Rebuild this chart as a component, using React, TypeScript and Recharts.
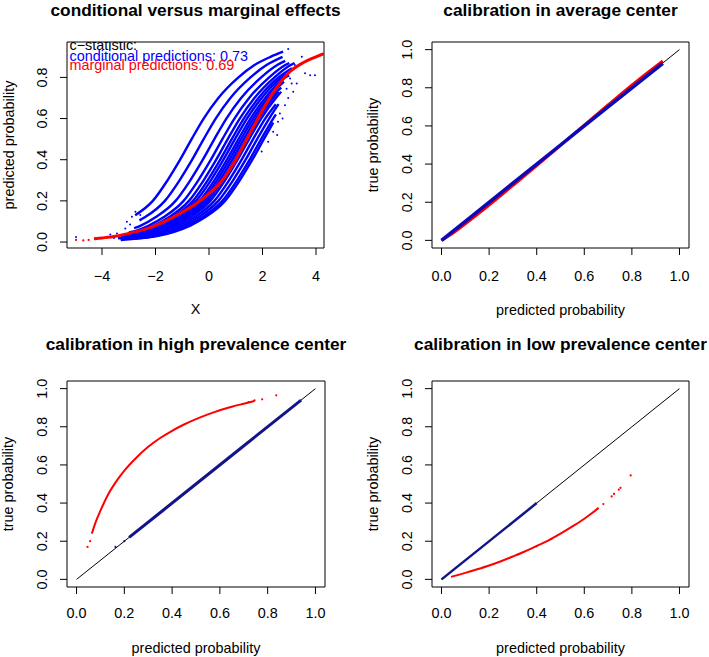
import React from 'react'
import { ComposedChart, Scatter, XAxis, YAxis, ReferenceArea } from 'recharts'

const FONT = '"Liberation Sans", Arial, Helvetica, sans-serif'
const BLUE = '#0000ff'
const RED = '#ff0000'
const NAVY = '#14148a'

// ---- panel 1: conditional versus marginal effects ----
const effectXTicks = [-4, -2, 0, 2, 4]
const effectYTicks = [0, 0.2, 0.4, 0.6, 0.8]
const probTicks = [0, 0.2, 0.4, 0.6, 0.8, 1]

// one curve per center (conditional predictions) as [x, y]
const conditionalCurves: [number, number][][] = [
  [[-2.76, 0.13], [-2.1, 0.2], [-1.55, 0.3], [-1.08, 0.4], [-0.65, 0.5], [-0.2, 0.6], [0.35, 0.7], [1.1, 0.8], [1.7, 0.86], [2.3, 0.9], [2.77, 0.925]],
  [[-2.6, 0.105], [-2.4, 0.12], [-1.65, 0.2], [-1.1, 0.3], [-0.63, 0.4], [-0.2, 0.5], [0.25, 0.6], [0.8, 0.7], [1.55, 0.8], [2.15, 0.86], [2.75, 0.9]],
  [[-2.8, 0.067], [-2.55, 0.08], [-2.0, 0.12], [-1.25, 0.2], [-0.7, 0.3], [-0.23, 0.4], [0.2, 0.5], [0.65, 0.6], [1.2, 0.7], [1.95, 0.8], [2.55, 0.86], [2.85, 0.88]],
  [[-3.0, 0.046], [-2.85, 0.05], [-2.25, 0.08], [-1.7, 0.12], [-0.95, 0.2], [-0.4, 0.3], [0.07, 0.4], [0.5, 0.5], [0.95, 0.6], [1.5, 0.7], [2.25, 0.8], [2.85, 0.86], [3.0, 0.87]],
  [[-3.2, 0.031], [-2.65, 0.05], [-2.05, 0.08], [-1.5, 0.12], [-0.75, 0.2], [-0.2, 0.3], [0.27, 0.4], [0.7, 0.5], [1.15, 0.6], [1.7, 0.7], [2.45, 0.8], [3.05, 0.86], [3.2, 0.87]],
  [[-3.1, 0.03], [-2.5, 0.05], [-1.9, 0.08], [-1.35, 0.12], [-0.6, 0.2], [-0.05, 0.3], [0.42, 0.4], [0.85, 0.5], [1.3, 0.6], [1.85, 0.7], [2.6, 0.8], [3.1, 0.845]],
  [[-3.3, 0.022], [-2.98, 0.03], [-2.38, 0.05], [-1.78, 0.08], [-1.23, 0.12], [-0.48, 0.2], [0.07, 0.3], [0.54, 0.4], [0.97, 0.5], [1.42, 0.6], [1.97, 0.7], [2.72, 0.8], [2.9, 0.815]],
  [[-3.0, 0.025], [-2.85, 0.03], [-2.25, 0.05], [-1.65, 0.08], [-1.1, 0.12], [-0.35, 0.2], [0.2, 0.3], [0.67, 0.4], [1.1, 0.5], [1.55, 0.6], [2.1, 0.7], [2.85, 0.8], [3.0, 0.81]],
  [[-3.4, 0.018], [-3.25, 0.02], [-2.75, 0.03], [-2.15, 0.05], [-1.55, 0.08], [-1.0, 0.12], [-0.25, 0.2], [0.3, 0.3], [0.77, 0.4], [1.2, 0.5], [1.65, 0.6], [2.2, 0.7], [2.8, 0.78]],
  [[-2.9, 0.023], [-2.65, 0.03], [-2.05, 0.05], [-1.45, 0.08], [-0.9, 0.12], [-0.15, 0.2], [0.4, 0.3], [0.87, 0.4], [1.3, 0.5], [1.75, 0.6], [2.3, 0.7], [2.7, 0.75]],
  [[-3.0, 0.02], [-2.55, 0.03], [-1.95, 0.05], [-1.35, 0.08], [-0.8, 0.12], [-0.05, 0.2], [0.5, 0.3], [0.97, 0.4], [1.4, 0.5], [1.85, 0.6], [2.4, 0.7], [2.6, 0.73]],
  [[-3.1, 0.018], [-2.95, 0.02], [-2.45, 0.03], [-1.85, 0.05], [-1.25, 0.08], [-0.7, 0.12], [0.05, 0.2], [0.6, 0.3], [1.07, 0.4], [1.5, 0.5], [1.95, 0.6], [2.5, 0.7], [2.7, 0.73]],
  [[-3.2, 0.016], [-2.8, 0.02], [-2.3, 0.03], [-1.7, 0.05], [-1.1, 0.08], [-0.55, 0.12], [0.2, 0.2], [0.75, 0.3], [1.22, 0.4], [1.65, 0.5], [2.1, 0.6], [2.5, 0.67]],
  [[-2.8, 0.018], [-2.65, 0.02], [-2.15, 0.03], [-1.55, 0.05], [-0.95, 0.08], [-0.4, 0.12], [0.35, 0.2], [0.9, 0.3], [1.37, 0.4], [1.8, 0.5], [2.25, 0.6], [2.6, 0.67]],
  [[-3.0, 0.015], [-2.5, 0.02], [-2.0, 0.03], [-1.4, 0.05], [-0.8, 0.08], [-0.25, 0.12], [0.5, 0.2], [1.05, 0.3], [1.52, 0.4], [1.95, 0.5], [2.4, 0.6], [2.5, 0.62]],
  [[-3.3, 0.01], [-2.4, 0.02], [-1.9, 0.03], [-1.3, 0.05], [-0.7, 0.08], [-0.15, 0.12], [0.6, 0.2], [1.15, 0.3], [1.62, 0.4], [2.05, 0.5], [2.4, 0.58]],
]

// loose observations at both ends of the conditional curves
const conditionalDots: [number, number][] = [
  [2.96, 0.938], [3.47, 0.9], [3.21, 0.86], [3.59, 0.82], [3.78, 0.81], [3.96, 0.81], [3.03, 0.795],
  [3.28, 0.77], [3.09, 0.77], [2.9, 0.745], [3.15, 0.73], [2.96, 0.7], [2.84, 0.665], [2.65, 0.625],
  [2.58, 0.585], [2.4, 0.536], [2.21, 0.487], [1.97, 0.44], [2.75, 0.6], [2.55, 0.52],
  [-3.07, 0.099], [-2.88, 0.123], [-2.75, 0.147], [-2.57, 0.131], [-3.13, 0.066], [-3.44, 0.042],
  [-3.81, 0.026], [-3.69, 0.037], [-3.31, 0.017], [-4.97, 0.024], [-3.55, 0.02], [-2.95, 0.085],
]

const marginalX = [-4.3, -4, -3.5, -3, -2.5, -2, -1.5, -1, -0.5, 0, 0.5, 1, 1.5, 2, 2.5, 3, 3.5, 4, 4.3]
const marginalY = [0.016, 0.02, 0.028, 0.042, 0.058, 0.08, 0.11, 0.145, 0.185, 0.235, 0.3, 0.4, 0.52, 0.64, 0.745, 0.825, 0.87, 0.9, 0.915]
const marginalDots: [number, number][] = [[-4.97, 0.01], [-4.7, 0.008], [-4.5, 0.01]]

// ---- calibration panels: [predicted, true] ----
const diagonal: [number, number][] = [[0, 0], [1, 1]]

const avgRed: [number, number][] = [[0, 0], [0.05, 0.04], [0.1, 0.087], [0.2, 0.185], [0.3, 0.288], [0.4, 0.392], [0.5, 0.498], [0.6, 0.604], [0.7, 0.71], [0.8, 0.814], [0.9, 0.912], [0.93, 0.94]]
const avgBlue: [number, number][] = [[0, 0], [0.1, 0.1], [0.3, 0.3], [0.5, 0.5], [0.7, 0.7], [0.93, 0.928]]

const highRed: [number, number][] = [[0.064, 0.24], [0.08, 0.3], [0.1, 0.36], [0.13, 0.44], [0.17, 0.52], [0.2, 0.57], [0.25, 0.638], [0.3, 0.695], [0.35, 0.741], [0.4, 0.779], [0.45, 0.812], [0.5, 0.84], [0.55, 0.865], [0.6, 0.887], [0.65, 0.905], [0.7, 0.921], [0.745, 0.935]]
const highRedDots: [number, number][] = [[0.046, 0.17], [0.057, 0.2], [0.72, 0.93], [0.745, 0.938], [0.777, 0.944], [0.836, 0.965]]
const highBlue: [number, number][] = [[0.22, 0.22], [0.5, 0.5], [0.94, 0.94]]
const highBlueDots: [number, number][] = [[0.163, 0.17], [0.2, 0.2]]

const lowRed: [number, number][] = [[0.04, 0.013], [0.1, 0.034], [0.15, 0.053], [0.2, 0.073], [0.25, 0.095], [0.3, 0.12], [0.35, 0.146], [0.4, 0.175], [0.45, 0.205], [0.5, 0.24], [0.55, 0.278], [0.6, 0.318], [0.63, 0.345], [0.66, 0.375]]
const lowRedDots: [number, number][] = [[0.68, 0.395], [0.715, 0.435], [0.725, 0.448], [0.745, 0.47], [0.752, 0.48], [0.795, 0.545]]
const lowBlue: [number, number][] = [[0, 0], [0.4, 0.4]]

const pts = (arr: [number, number][]) => arr.map(([x, y]) => ({ x, y }))
const noShape = () => <g />
const dotShape = (color: string, r: number) => (p: any) => <circle cx={p.cx} cy={p.cy} r={r} fill={color} />

const txt = { fontFamily: FONT, fill: '#000' }

function Panel({ left, top, width, height, box, xDomain, yDomain, xTicks, yTicks, xFmt, tickBase, children }: any) {
  const yLabX = box.l - 20
  return (
    <div style={{ position: 'absolute', left, top, width, height }}>
      <ComposedChart width={width} height={height} margin={{ top: box.t, right: width - box.r, left: 0, bottom: 0 }}>
        <XAxis
          type="number"
          dataKey="x"
          domain={xDomain}
          allowDataOverflow
          ticks={xTicks}
          interval={0}
          height={height - box.b}
          tickSize={7}
          axisLine={false}
          tickLine={{ stroke: '#000' }}
          tick={(p: any) => (
            <text x={p.x} y={tickBase} textAnchor="middle" fontSize={14.4} {...txt}>
              {xFmt(p.payload.value)}
            </text>
          )}
        />
        <YAxis
          type="number"
          dataKey="y"
          domain={yDomain}
          allowDataOverflow
          ticks={yTicks}
          interval={0}
          width={box.l}
          tickSize={7}
          axisLine={false}
          tickLine={{ stroke: '#000' }}
          tick={(p: any) => (
            <text x={yLabX} y={p.y} transform={`rotate(-90 ${yLabX} ${p.y})`} textAnchor="middle" fontSize={14.4} {...txt}>
              {p.payload.value.toFixed(1)}
            </text>
          )}
        />
        {children}
        <ReferenceArea x1={xDomain[0]} x2={xDomain[1]} y1={yDomain[0]} y2={yDomain[1]} fill="none" stroke="#000" strokeWidth={1} fillOpacity={0} ifOverflow="visible" />
      </ComposedChart>
    </div>
  )
}

const fmtX = (v: number) => (v < 0 ? '\u2212' + Math.abs(v) : String(v))
const fmtP = (v: number) => v.toFixed(1)

function Series({ data, color, width, dots }: any) {
  return (
    <Scatter
      data={pts(data)}
      fill={color}
      line={{ stroke: color, strokeWidth: width }}
      lineJointType="monotoneX"
      shape={dots ? dotShape(color, dots) : noShape}
      isAnimationActive={false}
    />
  )
}

export default function App() {
  const probDomain = [-0.04, 1.04]
  return (
    <div style={{ position: 'absolute', left: 0, top: 0, width: 709, height: 657, background: '#fff', overflow: 'hidden' }}>
      <Panel left={0} top={0} width={354} height={328} box={{ l: 67, t: 42, r: 324, b: 248 }}
        xDomain={[-5.308, 4.299]} yDomain={[-0.029, 0.972]} xTicks={effectXTicks} yTicks={effectYTicks} xFmt={fmtX} tickBase={281}>
        {conditionalCurves.map((c, i) => (
          <Scatter key={i} data={pts(c)} fill={BLUE} line={{ stroke: BLUE, strokeWidth: 2.4 }} lineJointType="monotoneX" shape={noShape} isAnimationActive={false} />
        ))}
        <Scatter data={pts(conditionalDots)} fill={BLUE} shape={dotShape(BLUE, 1)} isAnimationActive={false} />
        <Scatter data={marginalX.map((x, i) => ({ x, y: marginalY[i] }))} fill={RED} line={{ stroke: RED, strokeWidth: 3 }} lineJointType="monotoneX" shape={noShape} isAnimationActive={false} />
        <Scatter data={pts(marginalDots)} fill={RED} shape={dotShape(RED, 1.1)} isAnimationActive={false} />
      </Panel>

      <Panel left={354} top={0} width={355} height={328} box={{ l: 78, t: 42, r: 335, b: 248 }}
        xDomain={probDomain} yDomain={probDomain} xTicks={probTicks} yTicks={probTicks} xFmt={fmtP} tickBase={281}>
        {Series({ data: diagonal, color: '#000', width: 1 })}
        {Series({ data: avgRed, color: RED, width: 3 })}
        {Series({ data: avgBlue, color: '#0a0ab8', width: 3.5 })}
      </Panel>

      <Panel left={0} top={328} width={354} height={329} box={{ l: 67, t: 53, r: 325, b: 259 }}
        xDomain={probDomain} yDomain={probDomain} xTicks={probTicks} yTicks={probTicks} xFmt={fmtP} tickBase={289.5}>
        {Series({ data: diagonal, color: '#000', width: 1 })}
        {Series({ data: highRed, color: RED, width: 2 })}
        <Scatter data={pts(highRedDots)} fill={RED} shape={dotShape(RED, 1.1)} isAnimationActive={false} />
        {Series({ data: highBlue, color: NAVY, width: 3 })}
        <Scatter data={pts(highBlueDots)} fill={NAVY} shape={dotShape(NAVY, 1.1)} isAnimationActive={false} />
      </Panel>

      <Panel left={354} top={328} width={355} height={329} box={{ l: 78, t: 53, r: 335, b: 259 }}
        xDomain={probDomain} yDomain={probDomain} xTicks={probTicks} yTicks={probTicks} xFmt={fmtP} tickBase={289.5}>
        {Series({ data: diagonal, color: '#000', width: 1 })}
        {Series({ data: lowRed, color: RED, width: 2 })}
        <Scatter data={pts(lowRedDots)} fill={RED} shape={dotShape(RED, 1.1)} isAnimationActive={false} />
        {Series({ data: lowBlue, color: NAVY, width: 2.5 })}
      </Panel>

      <svg width={709} height={657} style={{ position: 'absolute', left: 0, top: 0, pointerEvents: 'none' }}>
        <defs>
          <clipPath id="box1">
            <rect x={67} y={42} width={257} height={206} />
          </clipPath>
        </defs>
        <g fontFamily={FONT} fontWeight="bold" fontSize={17.3} textAnchor="middle" fill="#000">
          <text x={195.5} y={15.5}>conditional versus marginal effects</text>
          <text x={560.5} y={15.5}>calibration in average center</text>
          <text x={196} y={349.5}>calibration in high prevalence center</text>
          <text x={560.5} y={349.5}>calibration in low prevalence center</text>
        </g>
        <g fontFamily={FONT} fontSize={14.4} textAnchor="middle" fill="#000">
          <text x={195.5} y={314}>X</text>
          <text x={560.5} y={314.5}>predicted probability</text>
          <text x={196} y={653}>predicted probability</text>
          <text x={560.5} y={653}>predicted probability</text>
          <text x={13.5} y={145} transform="rotate(-90 13.5 145)">predicted probability</text>
          <text x={377.5} y={145} transform="rotate(-90 377.5 145)">true probability</text>
          <text x={13} y={484} transform="rotate(-90 13 484)">true probability</text>
          <text x={377.5} y={484} transform="rotate(-90 377.5 484)">true probability</text>
        </g>
        <g fontFamily={FONT} fontSize={14.4} clipPath="url(#box1)">
          <text x={69.5} y={50} fill="#000">c{'\u2212'}statistic:</text>
          <text x={69.5} y={60.5} fill={BLUE}>conditional predictions: 0.73</text>
          <text x={69.5} y={69.5} fill={RED}>marginal predictions: 0.69</text>
        </g>
      </svg>
    </div>
  )
}
